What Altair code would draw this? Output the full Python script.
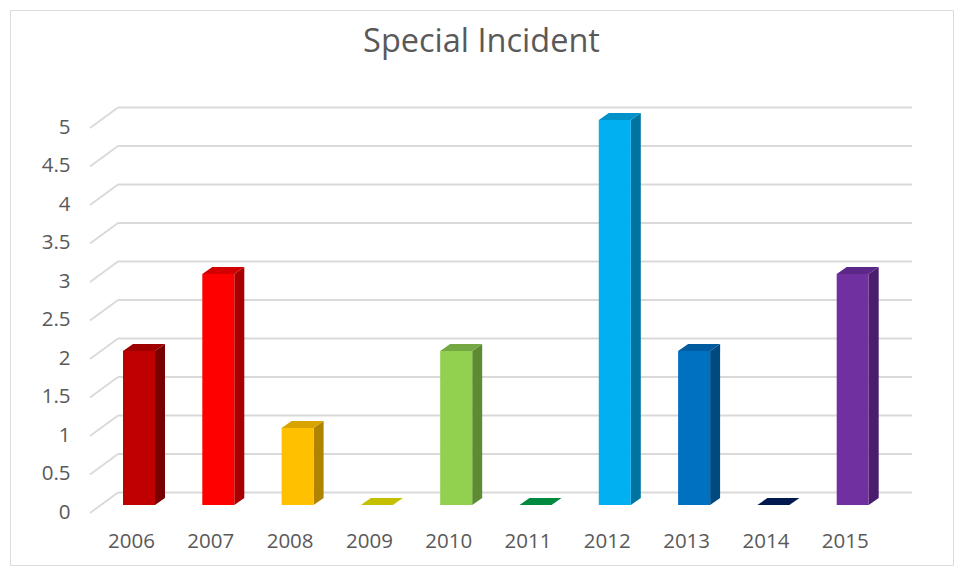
import altair as alt
import pandas as pd

# ---------------- data ----------------
YEARS = [2006, 2007, 2008, 2009, 2010, 2011, 2012, 2013, 2014, 2015]
INCIDENTS = [2, 3, 1, 0, 2, 0, 5, 2, 0, 3]
Y_TICKS = [0, 0.5, 1, 1.5, 2, 2.5, 3, 3.5, 4, 4.5, 5]
TITLE = "Special Incident"

# ---------------- styles ----------------
FRONT = ["#C00000", "#FF0000", "#FFC000", "#C8C400", "#92D050",
         "#00A050", "#00B0F0", "#0070C0", "#002060", "#7030A0"]
TOP = ["#9E0000", "#D20000", "#D9A300", "#C4C000", "#74A843",
       "#008A40", "#0092C8", "#005C9E", "#001A50", "#5C2888"]
SIDE = ["#780000", "#A80000", "#B08300", "#8E8A00", "#5E8A33",
        "#006B35", "#0074A0", "#004A80", "#001440", "#4A1E6C"]
TEXT = "#595959"
GRID = "#D9D9D9"
FONT = "Open Sans"

W, H = 943, 555
Y0_PX, Y5_PX = 495, 110          # front plane: value 0 / 5
X0_PX, X9_PX = 129, 842.7        # bar centres of first / last year
PX_X = (X9_PX - X0_PX) / (YEARS[-1] - YEARS[0])
PX_Y = (Y0_PX - Y5_PX) / 5.0
HALF_W = 16 / PX_X               # half front width in year units
DX = 10 / PX_X                   # depth shift (x)
DY = 7 / PX_Y                    # depth shift (y)

YSTR = [str(y) for y in YEARS]

front_df = pd.DataFrame({
    "yr": YSTR,
    "v": INCIDENTS,
    "x1": [y - HALF_W for y in YEARS],
    "x2": [y + HALF_W for y in YEARS],
})

top_rows, side_rows = [], []
for y, v in zip(YEARS, INCIDENTS):
    top_rows.append({"yr": str(y), "y": v, "xa": y - HALF_W, "xb": y + HALF_W})
    top_rows.append({"yr": str(y), "y": v + DY, "xa": y - HALF_W + DX, "xb": y + HALF_W + DX})
    side_rows.append({"yr": str(y), "x": y + HALF_W, "y": v, "y2": 0})
    side_rows.append({"yr": str(y), "x": y + HALF_W + DX, "y": v + DY, "y2": DY})
top_df = pd.DataFrame(top_rows)
side_df = pd.DataFrame(side_rows)
grid_df = pd.DataFrame({"v": Y_TICKS})

X_SCALE = alt.Scale(domain=[YEARS[0], YEARS[-1]], range=[X0_PX, X9_PX], nice=False, zero=False)
Y_SCALE = alt.Scale(domain=[0, 5], range=[Y0_PX, Y5_PX], nice=False, zero=False)

X_AXIS = alt.Axis(values=YEARS, format="d", title=None, domain=False, ticks=False, grid=False,
                  labelFont=FONT, labelFontSize=20.5, labelColor=TEXT, labelPadding=0,
                  labelBaseline="top", labelOffset=-8, offset=-33.5,
                  labelFlush=False, labelOverlap=False)
Y_AXIS = alt.Axis(values=Y_TICKS, format="~g", title=None, domain=False, ticks=False, grid=False,
                  labelFont=FONT, labelFontSize=20.5, labelColor=TEXT, labelPadding=0,
                  labelOffset=7, offset=-60, labelFlush=False, labelOverlap=False)

back = alt.Chart(grid_df).mark_rule(color=GRID, strokeWidth=1.8, yOffset=-12.5).encode(
    y=alt.Y("v:Q", scale=Y_SCALE, axis=Y_AXIS),
    x=alt.value(108), x2=alt.value(902),
)
slant = alt.Chart(grid_df).mark_rule(color=GRID, strokeWidth=1.8, yOffset=8, y2Offset=-12.5).encode(
    y=alt.Y("v:Q", scale=Y_SCALE, axis=Y_AXIS),
    y2=alt.Y2("v"),
    x=alt.value(80), x2=alt.value(108),
)

side = alt.Chart(side_df).mark_area(orient="vertical").encode(
    x=alt.X("x:Q", scale=X_SCALE, axis=X_AXIS),
    y=alt.Y("y:Q", scale=Y_SCALE, axis=Y_AXIS),
    y2="y2:Q",
    fill=alt.Fill("yr:N", scale=alt.Scale(domain=YSTR, range=SIDE), legend=None),
)
top = alt.Chart(top_df).mark_area(orient="horizontal").encode(
    y=alt.Y("y:Q", scale=Y_SCALE, axis=Y_AXIS),
    x=alt.X("xa:Q", scale=X_SCALE, axis=X_AXIS),
    x2="xb:Q",
    fill=alt.Fill("yr:N", scale=alt.Scale(domain=YSTR, range=TOP), legend=None),
)
front = alt.Chart(front_df).mark_rect().encode(
    x=alt.X("x1:Q", scale=X_SCALE, axis=X_AXIS),
    x2="x2:Q",
    y=alt.Y("v:Q", scale=Y_SCALE, axis=Y_AXIS),
    y2=alt.datum(0),
    fill=alt.Fill("yr:N", scale=alt.Scale(domain=YSTR, range=FRONT), legend=None),
)

chart = alt.layer(back, slant, side, top, front).resolve_scale(
    fill="independent"
).properties(
    width=W, height=H,
    autosize=alt.AutoSizeParams(type="none"),
    padding=2,
    title=alt.TitleParams(TITLE, font=FONT, fontSize=32.5, fontWeight="normal", color=TEXT,
                          anchor="middle", frame="group", baseline="alphabetic",
                          offset=0, dy=74),
).configure_view(stroke=GRID, strokeWidth=2).configure(background="white")

chart.save("out.html", embed_options={"renderer": "svg", "actions": False})
